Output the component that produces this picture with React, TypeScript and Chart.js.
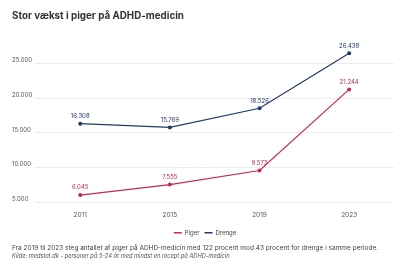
import React, { useEffect, useRef } from "react";
import { Chart, registerables } from "chart.js";

Chart.register(...registerables);

const title = "Stor vækst i piger på ADHD-medicin";
const categories = ["2011", "2015", "2019", "2023"];
const pigerValues = [6045, 7555, 9573, 21244];
const drengeValues = [16308, 15769, 18526, 26438];
const yTicks = [5000, 10000, 15000, 20000, 25000];
const seriesNames = ["Piger", "Drenge"];
const seriesColors = ["#c22a4f", "#22396a"];
const noteLine = "Fra 2019 til 2023 steg antallet af piger på ADHD-medicin med 122 procent mod 43 procent for drenge i samme periode.";
const sourceLine = "Kilde: medstat.dk - personer på 5-24 år med mindst en recept på ADHD-medicin";

const FONT = "Inter, 'DejaVu Sans', sans-serif";

function fmt(v: number): string {
  return String(Math.round(v)).replace(/\B(?=(\d{3})+(?!\d))/g, ".");
}

const valueLabels = {
  id: "valueLabels",
  afterDatasetsDraw(chart: any) {
    const ctx = chart.ctx;
    ctx.save();
    ctx.font = `6px ${FONT}`;
    ctx.textAlign = "center";
    ctx.textBaseline = "middle";
    chart.data.datasets.forEach((ds: any, i: number) => {
      const meta = chart.getDatasetMeta(i);
      ctx.fillStyle = ds.borderColor;
      meta.data.forEach((pt: any, j: number) => {
        ctx.fillText(fmt(ds.data[j]), pt.x, pt.y - 7.5);
      });
    });
    ctx.restore();
  },
};

export default function App() {
  const ref = useRef<HTMLCanvasElement>(null);
  useEffect(() => {
    if (!ref.current) return;
    const baseGen = (Chart as any).defaults.plugins.legend.labels.generateLabels;
    const chart = new Chart(ref.current, {
      type: "line",
      data: {
        labels: categories,
        datasets: [
          {
            label: seriesNames[0],
            data: pigerValues,
            borderColor: seriesColors[0],
            backgroundColor: seriesColors[0],
            borderWidth: 1.2,
            pointRadius: 2,
            pointBorderWidth: 0,
            tension: 0,
          },
          {
            label: seriesNames[1],
            data: drengeValues,
            borderColor: seriesColors[1],
            backgroundColor: seriesColors[1],
            borderWidth: 1.2,
            pointRadius: 2,
            pointBorderWidth: 0,
            tension: 0,
          },
        ],
      },
      options: {
        animation: false,
        responsive: false,
        devicePixelRatio: 1,
        layout: { padding: { top: 45.9, left: 12, right: 0, bottom: 28.2 } },
        plugins: {
          tooltip: { enabled: false },
          title: { display: false },
          legend: {
            display: true,
            position: "bottom",
            labels: {
              usePointStyle: true,
              pointStyle: "line",
              pointStyleWidth: 8,
              boxHeight: 6,
              padding: 5,
              color: "#444",
              font: { family: FONT, size: 6 },
              generateLabels(chart: any) {
                return baseGen(chart).map((it: any, i: number) => ({
                  ...it,
                  lineWidth: 1.6,
                  strokeStyle: seriesColors[i],
                  fillStyle: seriesColors[i],
                }));
              },
            },
          },
        },
        scales: {
          x: {
            type: "category",
            offset: true,
            grid: { display: false, drawTicks: false },
            border: { display: false },
            ticks: {
              color: "#555",
              padding: 9.3,
              font: { family: FONT, size: 6.5 },
              maxRotation: 0,
            },
            afterFit(scale: any) {
              scale.height = 22.5;
            },
          },
          y: {
            min: 5000,
            max: 27500,
            grid: { color: "#ececec", lineWidth: 1, drawTicks: false },
            border: { display: false },
            ticks: {
              color: "#555",
              crossAlign: "far",
              labelOffset: -3,
              font: { family: FONT, size: 6 },
              callback: (v: any) => fmt(Number(v)),
            },
            afterBuildTicks(scale: any) {
              scale.ticks = yTicks.map((v) => ({ value: v }));
            },
            afterFit(scale: any) {
              scale.width = 23.4;
            },
          },
        },
      },
      plugins: [valueLabels],
    } as any);
    return () => chart.destroy();
  }, []);

  return (
    <div
      style={{
        position: "absolute",
        left: 0,
        top: 0,
        width: 394,
        height: 274,
        overflow: "hidden",
        background: "#fff",
        fontFamily: FONT,
      }}
    >
      <canvas
        ref={ref}
        width={398}
        height={274}
        style={{ position: "absolute", left: 0, top: 0, width: 398, height: 274 }}
      />
      <div
        style={{
          position: "absolute",
          left: 12,
          top: 9.5,
          fontSize: 9.8,
          fontWeight: 700,
          color: "#333",
          lineHeight: "12px",
          whiteSpace: "nowrap",
        }}
      >
        {title}
      </div>
      <div
        style={{
          position: "absolute",
          left: 12,
          top: 244,
          fontSize: 6.5,
          color: "#444",
          lineHeight: "8px",
          whiteSpace: "nowrap",
        }}
      >
        {noteLine}
      </div>
      <div
        style={{
          position: "absolute",
          left: 12,
          top: 252,
          fontSize: 5.7,
          fontStyle: "italic",
          color: "#555",
          lineHeight: "8px",
          whiteSpace: "nowrap",
        }}
      >
        {sourceLine}
      </div>
    </div>
  );
}
